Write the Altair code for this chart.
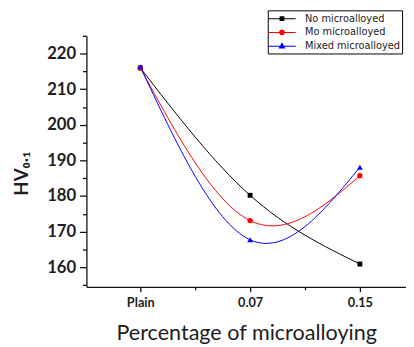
import json
import altair as alt
import pandas as pd

categories = ["Plain", "0.07", "0.15"]
series_names = ["No microalloyed", "Mo microalloyed", "Mixed microalloyed"]
no_vals = [216.0, 180.2, 160.9]
mo_vals = [216.0, 173.1, 185.7]
mixed_vals = [216.3, 167.7, 188.1]
series_colors = ["#000000", "#ff0000", "#0000ff"]
marker_shapes = ["square", "circle", "triangle-up"]
marker_sizes = [25, 36, 60]
y_tick_values = list(range(155, 226, 5))
x_tick_values = [0, 0.5, 1, 1.5, 2]

# legend symbols: a line with the marker on it
legend_paths = [
    "M-2.15,-0.08H2.15V0.08H-2.15Z M-0.38,-0.38H0.38V0.38H-0.38Z",
    "M-2.15,-0.08H2.15V0.08H-2.15Z M0.45,0A0.45,0.45,0,1,1,-0.45,0A0.45,0.45,0,1,1,0.45,0Z",
    "M-2.15,-0.08H2.15V0.08H-2.15Z M0,-0.6L0.55,0.38H-0.55Z",
]

rows = []
for name, vals in zip(series_names, [no_vals, mo_vals, mixed_vals]):
    for i, (c, v) in enumerate(zip(categories, vals)):
        rows.append({"series": name, "cat": c, "pos": i, "hv": v})
df = pd.DataFrame(rows)

FONT = "Lato"
TXT = "#1e1e1e"

x_label_expr = "datum.value % 1 === 0 ? " + json.dumps(categories) + "[datum.value] : ''"

x_enc = alt.X(
    "pos:Q",
    scale=alt.Scale(domain=[-0.491, 2.42], nice=False, zero=False),
    axis=alt.Axis(
        values=x_tick_values,
        labelExpr=x_label_expr,
        tickSize=alt.ExprRef(expr="datum.value % 1 === 0 ? 5 : 3"),
        grid=False,
        domainColor="#111",
        domainWidth=1.3,
        tickColor="#111",
        tickWidth=1.3,
        labelFont=FONT,
        labelFontSize=13,
        labelFontWeight="bold",
        labelColor=TXT,
        labelPadding=5,
        title="Percentage of microalloying",
        titleFont=FONT,
        titleFontSize=22,
        titleFontWeight="normal",
        titleColor=TXT,
        titleBaseline="alphabetic",
        titleY=54,
    ),
)

y_enc = alt.Y(
    "hv:Q",
    scale=alt.Scale(domain=[154.5, 225], nice=False, zero=False),
    axis=alt.Axis(
        values=y_tick_values,
        labelExpr="datum.value % 10 === 0 ? datum.label : ''",
        tickSize=alt.ExprRef(expr="datum.value % 10 === 0 ? 7 : 4"),
        grid=False,
        domainColor="#111",
        domainWidth=1.3,
        tickColor="#111",
        tickWidth=1.3,
        labelFont=FONT,
        labelFontSize=17,
        labelFontWeight="bold",
        labelColor=TXT,
        labelPadding=4,
        title="HV\u2080.\u2081",
        titleFont=FONT,
        titleFontSize=19,
        titleFontWeight="bold",
        titleColor=TXT,
        titleX=-56,
        titleY=140,
    ),
)

base = alt.Chart(df)

lines = base.mark_line(interpolate="natural", strokeWidth=1).encode(
    x=x_enc,
    y=y_enc,
    color=alt.Color("series:N", scale=alt.Scale(domain=series_names, range=series_colors), legend=None),
)

points = base.mark_point(filled=True, opacity=1, strokeWidth=0).encode(
    x=x_enc,
    y=y_enc,
    color=alt.Color("series:N", scale=alt.Scale(domain=series_names, range=series_colors), legend=None),
    shape=alt.Shape("series:N", scale=alt.Scale(domain=series_names, range=marker_shapes), legend=None),
    size=alt.Size("series:N", scale=alt.Scale(domain=series_names, range=marker_sizes), legend=None),
)

legend_props = dict(
    title=None,
    orient="none",
    legendX=185,
    legendY=-26,
    padding=2,
    strokeColor="#000",
    fillColor="#fff",
    labelFont="DejaVu Sans",
    labelFontSize=10,
    labelColor="#222",
    labelLimit=200,
    symbolSize=169,
    symbolStrokeWidth=0,
    symbolOffset=6,
    labelOffset=17,
    rowPadding=2,
)

legend_layer = base.transform_filter("false").mark_point(filled=True, opacity=1).encode(
    x=x_enc,
    y=y_enc,
    color=alt.Color("series:N", scale=alt.Scale(domain=series_names, range=series_colors),
                    legend=alt.Legend(**legend_props)),
    shape=alt.Shape("series:N", scale=alt.Scale(domain=series_names, range=legend_paths),
                    legend=alt.Legend(**legend_props)),
)

chart = (
    alt.layer(lines, points, legend_layer)
    .resolve_scale(color="independent", shape="independent", size="independent")
    .properties(
        width=326,
        height=256,
        autosize="none",
        padding={"left": 80, "top": 25, "right": 0, "bottom": 58},
    )
    .configure_view(stroke=None)
)

chart.save("out.html", embed_options={"renderer": "svg", "actions": False})
